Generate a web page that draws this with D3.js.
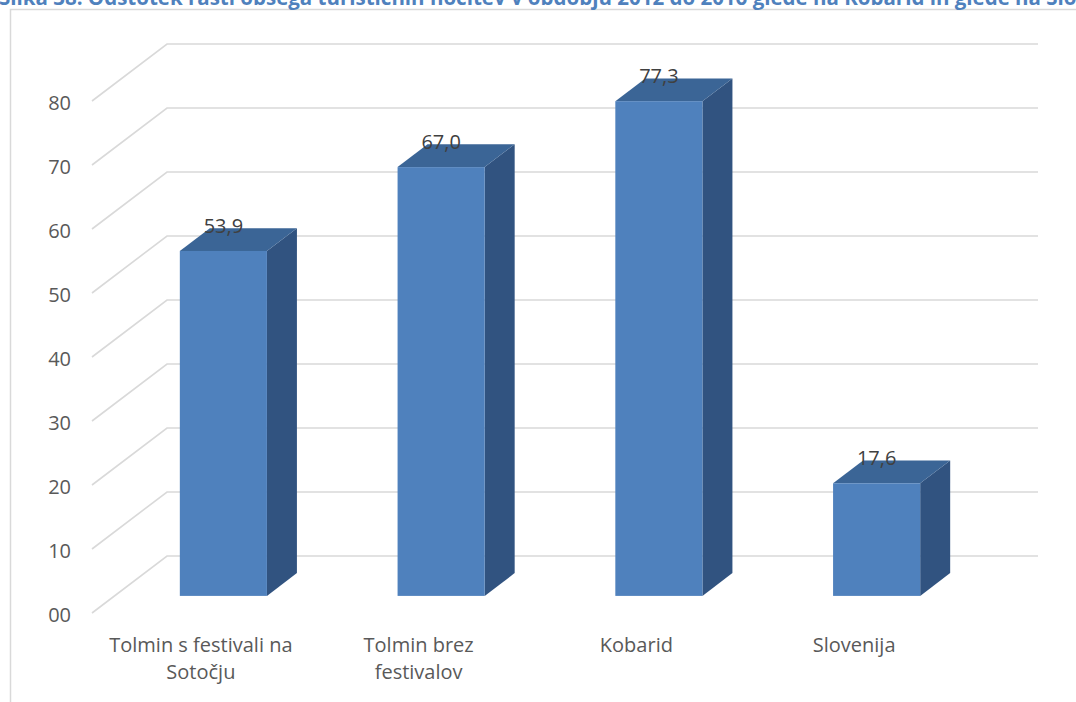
<!DOCTYPE html>
<html>
<head>
<meta charset="utf-8">
<script src="https://cdn.jsdelivr.net/npm/d3@7"></script>
<style>
  body { margin: 0; background: #fff; }
  svg { display: block; font-family: "Open Sans", sans-serif; }
</style>
</head>
<body>
<svg id="chart" width="1076" height="702"></svg>
<script>
const categories = [["Tolmin s festivali na", "Sotočju"], ["Tolmin brez", "festivalov"], ["Kobarid"], ["Slovenija"]];
const values = [53.9, 67.0, 77.3, 17.6];
const tickValues = [0, 10, 20, 30, 40, 50, 60, 70, 80];
const tickLabels = ["00", "10", "20", "30", "40", "50", "60", "70", "80"];
const title = "Slika 38: Odstotek rasti obsega turističnih nočitev v obdobju 2012 do 2016 glede na Kobarid in glede na Slovenijo";

const svg = d3.select("#chart");

// 3d depth of the plot (front plane -> back wall)
const DX = 75, DY = 57;
const zFront = 0.3, zBack = 0.7;

const x = d3.scaleBand()
    .domain(d3.range(categories.length))
    .range([92, 963])
    .paddingInner(0).paddingOuter(0);
const barW = x.bandwidth() * 0.4;

const y = d3.scaleLinear().domain([0, 80]).range([613, 101]);

// frame
svg.append("rect")
    .attr("x", 10.5).attr("y", 9.5)
    .attr("width", 1200).attr("height", 900)
    .attr("fill", "none")
    .attr("stroke", "#d9d9d9")
    .attr("stroke-width", 1.5);

// title (cut off at top, like the source)
svg.append("text")
    .attr("x", -1).attr("y", 5)
    .attr("fill", "#4f81bd")
    .style("font-size", "20.5px")
    .style("font-weight", "bold")
    .text(title);

// gridlines: floor diagonal + back wall
svg.append("g").selectAll("polyline")
    .data(tickValues)
    .enter().append("polyline")
    .attr("points", d => {
        const yy = y(d);
        return [[x.range()[0], yy], [x.range()[0] + DX, yy - DY], [x.range()[1] + DX, yy - DY]].join(" ");
    })
    .attr("fill", "none")
    .attr("stroke", "#d9d9d9")
    .attr("stroke-width", 1.6);

// tick labels
svg.append("g").selectAll("text")
    .data(tickValues)
    .enter().append("text")
    .attr("x", 71)
    .attr("y", d => y(d) + 2)
    .attr("dy", "0.35em")
    .attr("text-anchor", "end")
    .attr("fill", "#595959")
    .style("font-size", "20px")
    .text((d, i) => tickLabels[i]);

// bars
const bars = svg.append("g").selectAll("g")
    .data(values)
    .enter().append("g");

const fx = i => x(i) + (x.bandwidth() - barW) / 2 + zFront * DX;
const fy = v => y(v) - zFront * DY;
const ddx = (zBack - zFront) * DX, ddy = (zBack - zFront) * DY;

// side face
bars.append("path")
    .attr("d", (d, i) => {
        const x1 = fx(i) + barW, yt = fy(d), yb = fy(0);
        return `M${x1},${yt}L${x1 + ddx},${yt - ddy}L${x1 + ddx},${yb - ddy}L${x1},${yb}Z`;
    })
    .attr("fill", "#315380");

// top face
bars.append("path")
    .attr("d", (d, i) => {
        const x0 = fx(i), yt = fy(d);
        return `M${x0},${yt}L${x0 + ddx},${yt - ddy}L${x0 + barW + ddx},${yt - ddy}L${x0 + barW},${yt}Z`;
    })
    .attr("fill", "#3b6596");

// front face
bars.append("rect")
    .attr("x", (d, i) => fx(i))
    .attr("y", d => fy(d))
    .attr("width", barW)
    .attr("height", d => fy(0) - fy(d))
    .attr("fill", "#4f81bd");

// value labels
bars.append("text")
    .attr("x", (d, i) => fx(i) + barW / 2)
    .attr("y", d => fy(d) - 18)
    .attr("text-anchor", "middle")
    .attr("fill", "#404040")
    .style("font-size", "20px")
    .text(d => d3.format(".1f")(d).replace(".", ","));

// category labels
const catG = svg.append("g").selectAll("text")
    .data(categories)
    .enter().append("text")
    .attr("x", (d, i) => x(i) + x.bandwidth() / 2)
    .attr("y", 652)
    .attr("text-anchor", "middle")
    .attr("fill", "#595959")
    .style("font-size", "20px");

catG.selectAll("tspan")
    .data(d => d)
    .enter().append("tspan")
    .attr("x", function () { return d3.select(this.parentNode).attr("x"); })
    .attr("dy", (d, i) => i === 0 ? 0 : 27)
    .text(d => d);
</script>
</body>
</html>
